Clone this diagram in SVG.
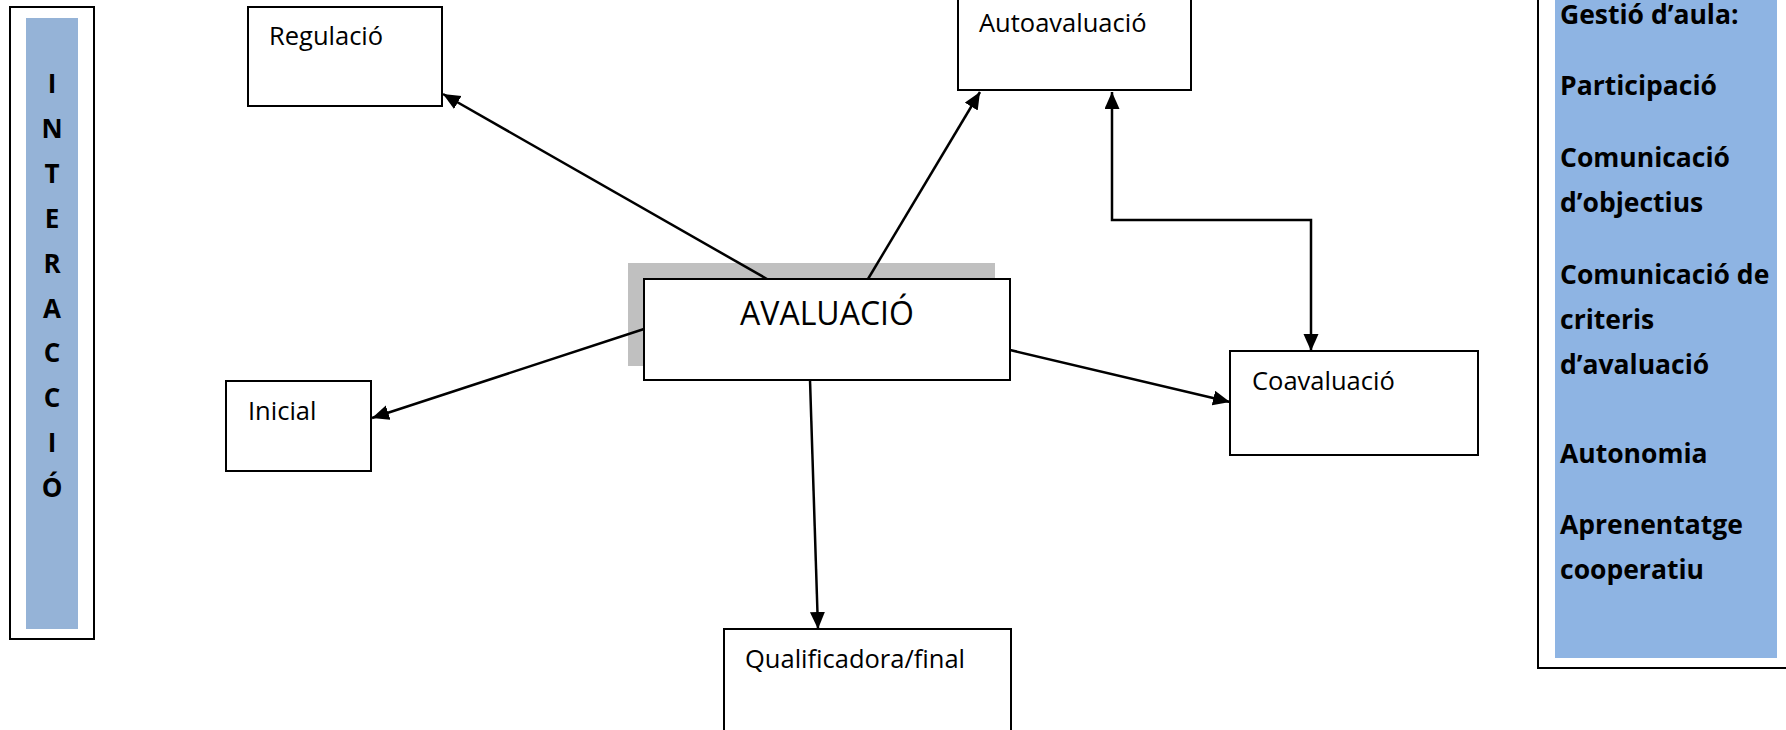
<svg xmlns="http://www.w3.org/2000/svg" width="1786" height="730" viewBox="0 0 1786 730">
<defs>
<style>
.box{fill:#ffffff;stroke:#000000;stroke-width:2}
.lbl{font-family:"Open Sans","Noto Sans",sans-serif;font-size:25.5px;fill:#000000}
.big{font-family:"Open Sans","Noto Sans",sans-serif;font-size:32px;fill:#000000}
.bold{font-family:"Open Sans","Noto Sans",sans-serif;font-weight:bold;font-size:26.5px;fill:#000000}
.vert{font-family:"Open Sans","Noto Sans",sans-serif;font-weight:bold;font-size:26px;fill:#000000;text-anchor:middle}
.conn{fill:none;stroke:#000000;stroke-width:2.5}
</style>
<marker id="arr" markerUnits="userSpaceOnUse" markerWidth="18" markerHeight="16" refX="17" refY="7.5" orient="auto-start-reverse">
<path d="M0,0 L17,7.5 L0,15 z" fill="#000000"/>
</marker>
</defs>
<rect width="1786" height="730" fill="#ffffff"/>

<g id="interaccio">
<rect x="10" y="7" width="84" height="632" class="box"/>
<rect x="26" y="18" width="52" height="611" fill="#95B3D7"/>
<text class="vert" x="52" y="93">I</text>
<text class="vert" x="52" y="137.9">N</text>
<text class="vert" x="52" y="182.8">T</text>
<text class="vert" x="52" y="227.7">E</text>
<text class="vert" x="52" y="272.6">R</text>
<text class="vert" x="52" y="317.5">A</text>
<text class="vert" x="52" y="362.4">C</text>
<text class="vert" x="52" y="407.3">C</text>
<text class="vert" x="52" y="452.2">I</text>
<text class="vert" x="52" y="497.1">Ó</text>
</g>

<g id="gestio">
<rect x="1538" y="-3" width="260" height="671" class="box"/>
<rect x="1555" y="-2" width="222" height="660" fill="#8EB4E3"/>
<text class="bold" x="1560" y="24">Gestió d’aula:</text>
<text class="bold" x="1560" y="95">Participació</text>
<text class="bold" x="1560" y="167">Comunicació</text>
<text class="bold" x="1560" y="212">d’objectius</text>
<text class="bold" x="1560" y="284">Comunicació de</text>
<text class="bold" x="1560" y="329">criteris</text>
<text class="bold" x="1560" y="374">d’avaluació</text>
<text class="bold" x="1560" y="463">Autonomia</text>
<text class="bold" x="1560" y="534">Aprenentatge</text>
<text class="bold" x="1560" y="579">cooperatiu</text>
</g>

<g id="avaluacio">
<rect x="628" y="263" width="367" height="103" fill="#c0c0c0"/>
<rect x="644" y="279" width="366" height="101" class="box"/>
<text class="big" x="827" y="325" text-anchor="middle">AVALUACIÓ</text>
</g>

<g id="connectors">
<line x1="767" y1="279" x2="443" y2="94" class="conn" marker-end="url(#arr)"/>
<line x1="868" y1="279" x2="980" y2="92" class="conn" marker-end="url(#arr)"/>
<line x1="644" y1="329" x2="372" y2="418" class="conn" marker-end="url(#arr)"/>
<line x1="1010" y1="350" x2="1230" y2="402" class="conn" marker-end="url(#arr)"/>
<line x1="810" y1="380" x2="818" y2="629" class="conn" marker-end="url(#arr)"/>
<path d="M1112,92 V220 H1311 V351" class="conn" marker-start="url(#arr)" marker-end="url(#arr)"/>
</g>

<g id="regulacio">
<rect x="248" y="7" width="194" height="99" class="box"/>
<text class="lbl" x="269" y="45">Regulació</text>
</g>

<g id="autoavaluacio">
<rect x="958" y="-2" width="233" height="92" class="box"/>
<text class="lbl" x="979" y="32">Autoavaluació</text>
</g>

<g id="inicial">
<rect x="226" y="381" width="145" height="90" class="box"/>
<text class="lbl" x="248" y="420">Inicial</text>
</g>

<g id="coavaluacio">
<rect x="1230" y="351" width="248" height="104" class="box"/>
<text class="lbl" x="1252" y="390">Coavaluació</text>
</g>

<g id="qualificadora">
<rect x="724" y="629" width="287" height="110" class="box"/>
<text class="lbl" x="745" y="668">Qualificadora/final</text>
</g>
</svg>
